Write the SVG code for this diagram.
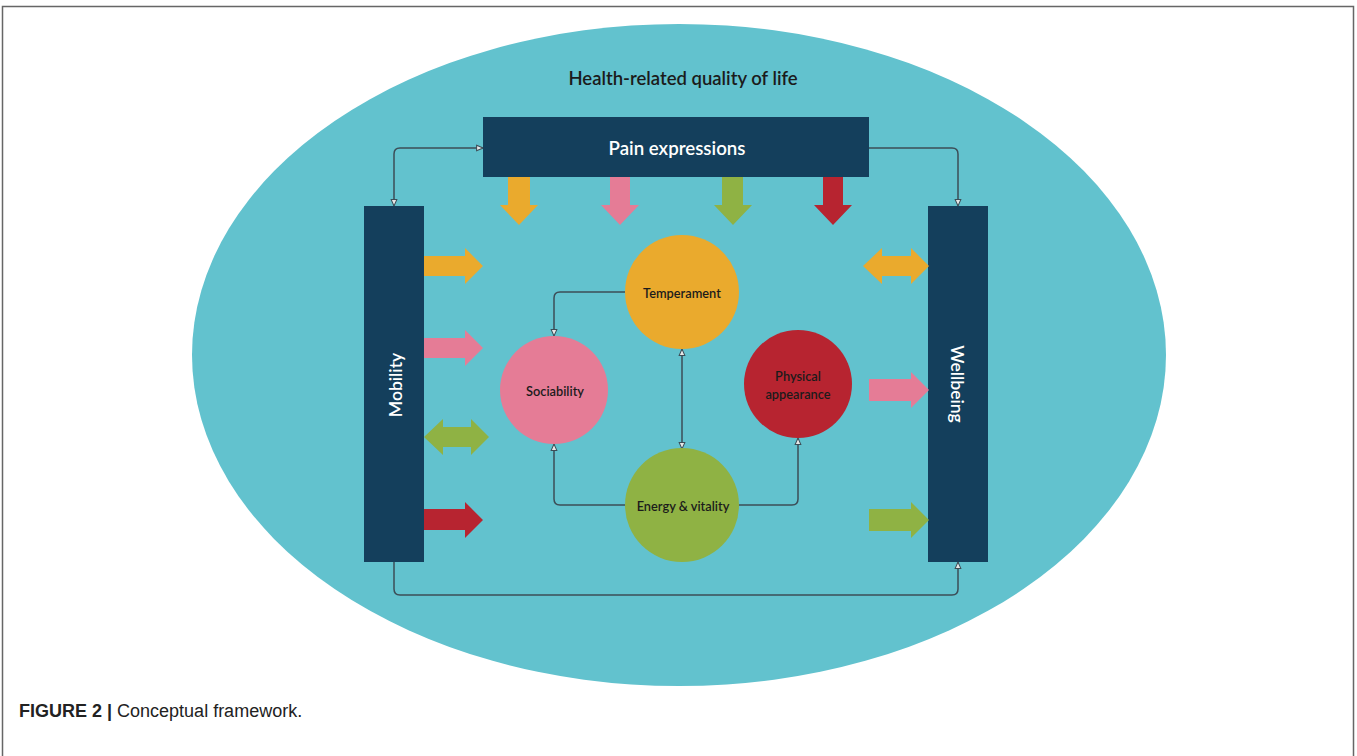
<svg xmlns="http://www.w3.org/2000/svg" width="1357" height="756" viewBox="0 0 1357 756">
<defs>
<style>
.box{fill:#143F5C;}
.lbl{font-family:Lato,"Open Sans",sans-serif;font-weight:600;fill:#1b1b1b;text-anchor:middle;dominant-baseline:central;}
.wlbl{font-family:Lato,"Open Sans",sans-serif;font-weight:600;fill:#ffffff;text-anchor:middle;dominant-baseline:central;}
.con{fill:none;stroke:#3c4d57;stroke-width:1.5;}
.or{fill:#EAAA2D;}.pk{fill:#E57C96;}.gr{fill:#8FB244;}.rd{fill:#B72430;}
</style>
<marker id="ah" viewBox="0 0 10 10" refX="9" refY="5" markerWidth="8" markerHeight="8" orient="auto-start-reverse" markerUnits="userSpaceOnUse">
<path d="M1,1.5 L9,5 L1,8.5 Z" fill="#e8e8e8" stroke="#3c4d57" stroke-width="1.3"/>
</marker>
</defs>
<rect x="0" y="0" width="1357" height="756" fill="#ffffff"/>
<path d="M2.5,756 V6.5 H1353.5 V756" fill="none" stroke="#666" stroke-width="1.5"/>

<g id="hrqol">
<ellipse cx="679" cy="355" rx="487" ry="331" fill="#62C2CE"/>
<text class="lbl" x="683" y="78" font-size="18.5">Health-related quality of life</text>
</g>

<g id="connectors">
<path class="con" d="M483,148 H400 Q394,148 394,154 V206" marker-start="url(#ah)" marker-end="url(#ah)"/>
<path class="con" d="M869,148 H952 Q958,148 958,154 V206" marker-end="url(#ah)"/>
<path class="con" d="M394,562 V589 Q394,595 400,595 H952 Q958,595 958,589 V562" marker-end="url(#ah)"/>
<path class="con" d="M625,292 H560 Q554,292 554,298 V336" marker-end="url(#ah)"/>
<path class="con" d="M625,505 H560 Q554,505 554,499 V444" marker-end="url(#ah)"/>
<path class="con" d="M739,505 H792 Q798,505 798,499 V438" marker-end="url(#ah)"/>
<path class="con" d="M682,349 V449" marker-start="url(#ah)" marker-end="url(#ah)"/>
</g>

<g id="pain">
<rect class="box" x="483" y="117" width="386" height="60"/>
<text class="wlbl" x="677" y="148" font-size="18.7">Pain expressions</text>
</g>
<g id="mobility">
<rect class="box" x="364" y="206" width="60" height="356"/>
<text class="wlbl" x="0" y="0" font-size="17.5" transform="translate(395,385) rotate(-90)">Mobility</text>
</g>
<g id="wellbeing">
<rect class="box" x="928" y="206" width="60" height="356"/>
<text class="wlbl" x="0" y="0" font-size="17.5" transform="translate(957,384) rotate(90)">Wellbeing</text>
</g>

<g id="temperament">
<circle class="or" cx="682" cy="292" r="57"/>
<text class="lbl" x="682" y="293" font-size="12.8">Temperament</text>
</g>
<g id="sociability">
<circle class="pk" cx="554" cy="390" r="54"/>
<text class="lbl" x="555" y="391" font-size="12.8">Sociability</text>
</g>
<g id="physical">
<circle class="rd" cx="798" cy="384" r="54"/>
<text class="lbl" x="798" y="376" font-size="12.8">Physical</text>
<text class="lbl" x="798" y="394" font-size="12.8">appearance</text>
</g>
<g id="energy">
<circle class="gr" cx="682" cy="505" r="57"/>
<text class="lbl" x="683" y="506" font-size="12.8">Energy &amp; vitality</text>
</g>

<g id="arrows">
<path class="or" d="M508,177 H530 V205 H538 L519,225 L500,205 H508 Z"/>
<path class="pk" d="M610,177 H630 V205 H639 L620,225 L601,205 H610 Z"/>
<path class="gr" d="M722,177 H743 V205 H752 L733,225 L714,205 H722 Z"/>
<path class="rd" d="M823,177 H843 V205 H852 L833,225 L814,205 H823 Z"/>

<path class="or" d="M424,256 H465 V248 L483,266 L465,284 V276 H424 Z"/>
<path class="pk" d="M424,338 H465 V330 L483,348 L465,366 V358 H424 Z"/>
<path class="gr" d="M424,437 L443,419 V427 H471 V419 L489,437 L471,455 V447 H443 V455 Z"/>
<path class="rd" d="M424,509 H465 V502 L483,520 L465,538 V530 H424 Z"/>

<path class="or" d="M863,266 L882,248 V256 H911 V248 L929,266 L911,284 V276 H882 V284 Z"/>
<path class="pk" d="M869,379 H911 V372 L929,390 L911,408 V401 H869 Z"/>
<path class="gr" d="M869,509 H911 V502 L929,520 L911,538 V531 H869 Z"/>
</g>

<text x="19" y="717" font-family="Liberation Sans,Arial,sans-serif" font-size="18" fill="#222"><tspan font-weight="bold">FIGURE 2 |</tspan> Conceptual framework.</text>
</svg>
